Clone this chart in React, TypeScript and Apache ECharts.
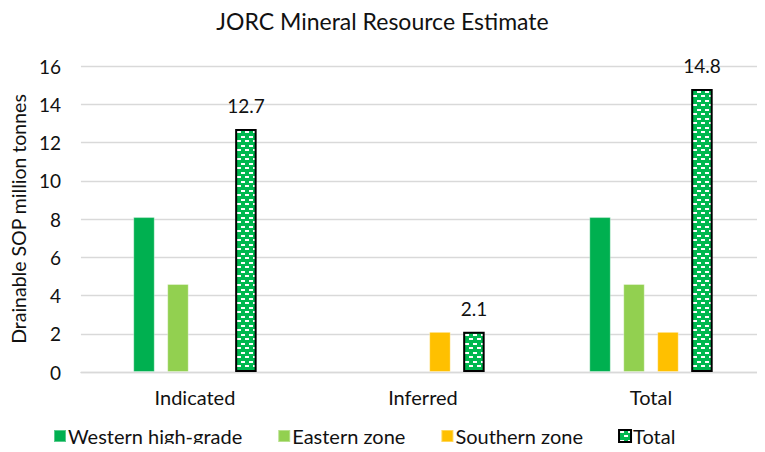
import React, { useEffect, useRef } from "react";
import * as echarts from "echarts";

const categories = ["Indicated", "Inferred", "Total"];
const westernHighGrade = [8.1, null, 8.1];
const easternZone = [4.6, null, 4.6];
const southernZone = [null, 2.1, 2.1];
const totalValues = [12.7, 2.1, 14.8];
const yTicks = { min: 0, max: 16, interval: 2 };

const FONT = "Lato, Carlito, Calibri, sans-serif";

function makePattern(): HTMLCanvasElement {
  const c = document.createElement("canvas");
  c.width = 8;
  c.height = 9;
  const ctx = c.getContext("2d")!;
  ctx.fillStyle = "#00B84F";
  ctx.fillRect(0, 0, 8, 9);
  ctx.fillStyle = "#ffffff";
  ctx.fillRect(1, 1, 4, 2);
  ctx.fillRect(5, 5, 3, 2);
  ctx.fillRect(0, 5, 1, 2);
  return c;
}

export default function App() {
  const ref = useRef<HTMLDivElement>(null);
  useEffect(() => {
    if (!ref.current) return;
    const chart = echarts.init(ref.current, undefined, { renderer: "svg" });
    const pattern = makePattern();
    const barCommon = {
      type: "bar" as const,
      barWidth: 21.5,
      barGap: "58%",
    };
    chart.setOption({
      animation: false,
      textStyle: { fontFamily: FONT },
      title: {
        text: "JORC Mineral Resource Estimate",
        left: "center",
        top: 4,
        textStyle: { fontFamily: FONT, fontSize: 23, fontWeight: "normal", color: "#111" },
      },
      legend: {
        left: 48,
        top: 421,
        itemWidth: 12,
        itemHeight: 12,
        itemGap: 35,
        icon: "rect",
        textStyle: { fontFamily: FONT, fontSize: 20, color: "#111", padding: [0, 0, 0, -3] },
        data: ["Western high-grade", "Eastern zone", "Southern zone", "Total"],
      },
      grid: { left: 80, top: 66, width: 693, height: 306, containLabel: false },
      xAxis: {
        type: "category",
        data: categories,
        axisLine: { lineStyle: { color: "#D9D9D9", width: 1.3 } },
        axisTick: { show: false },
        axisLabel: { fontFamily: FONT, fontSize: 20, color: "#111", margin: 15 },
      },
      yAxis: {
        type: "value",
        min: yTicks.min,
        max: yTicks.max,
        interval: yTicks.interval,
        name: "Drainable SOP million tonnes",
        nameLocation: "middle",
        nameGap: 50,
        nameTextStyle: { fontFamily: FONT, fontSize: 19.5, color: "#111" },
        axisLine: { show: false },
        axisTick: { show: false },
        axisLabel: { fontFamily: FONT, fontSize: 19, color: "#111", margin: 20 },
        splitLine: { lineStyle: { color: "#D9D9D9", width: 1.3 } },
      },
      series: [
        {
          ...barCommon,
          name: "Western high-grade",
          data: westernHighGrade,
          itemStyle: { color: "#00B050", borderColor: "rgba(255,255,255,0.35)", borderWidth: 1 },
        },
        {
          ...barCommon,
          name: "Eastern zone",
          data: easternZone,
          itemStyle: { color: "#92D050", borderColor: "rgba(255,255,255,0.35)", borderWidth: 1 },
        },
        {
          ...barCommon,
          name: "Southern zone",
          data: southernZone,
          itemStyle: { color: "#FFC000", borderColor: "rgba(255,255,255,0.35)", borderWidth: 1 },
        },
        {
          ...barCommon,
          name: "Total",
          data: totalValues,
          itemStyle: {
            color: { image: pattern, repeat: "repeat" },
            borderColor: "#000",
            borderWidth: 2,
          },
          label: {
            show: true,
            position: "top",
            distance: 14,
            fontFamily: FONT,
            fontSize: 19,
            color: "#111",
          },
        },
      ],
    });
    return () => chart.dispose();
  }, []);
  return <div ref={ref} style={{ width: 765, height: 452, margin: -8 }} />;
}
